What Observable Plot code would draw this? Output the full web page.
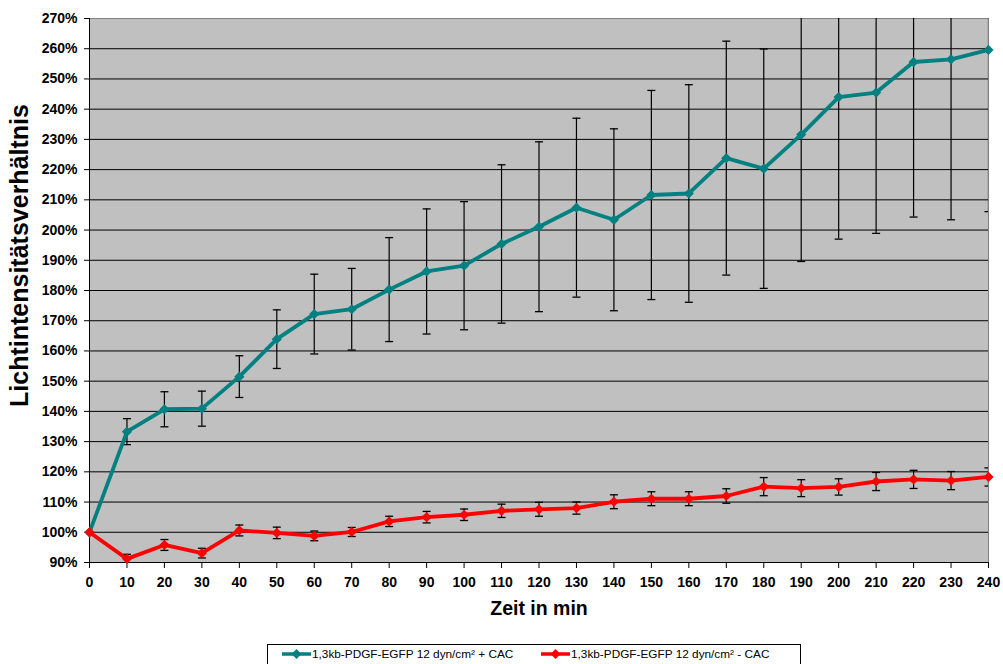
<!DOCTYPE html>
<html>
<head>
<meta charset="utf-8">
<script src="https://cdn.jsdelivr.net/npm/d3@7"></script>
<script src="https://cdn.jsdelivr.net/npm/@observablehq/plot@0.6"></script>
<style>
  html, body { margin: 0; padding: 0; background: #fff; }
  #wrap { position: relative; width: 1003px; height: 664px; overflow: hidden; }
  #legend { position: absolute; left: 267px; top: 644px; width: 534px; height: 24px;
            border: 1px solid #000; box-sizing: border-box; background: #fff;
            font-family: "Liberation Sans", Arial, sans-serif; font-size: 11.8px; color: #000; }
  .item { position: absolute; top: 2px; height: 14px; line-height: 14px; white-space: nowrap; display: flex; align-items: center; }
  .item svg { margin-right: 1px; }
</style>
</head>
<body>
<div id="wrap"><div id="chart"></div><div id="legend"></div></div>
<script>
const times = [0, 10, 20, 30, 40, 50, 60, 70, 80, 90, 100, 110, 120, 130, 140, 150, 160, 170, 180, 190, 200, 210, 220, 230, 240];
const plusMean = [100, 133.3, 140.7, 140.9, 151.5, 163.9, 172.2, 173.8, 180.3, 186.3, 188.2, 195.4, 201.1, 207.4, 203.4, 211.6, 212.1, 223.8, 220.3, 231.6, 244.0, 245.5, 255.6, 256.5, 259.6];
const plusSd = [0, 4.3, 5.8, 5.8, 6.9, 9.7, 13.2, 13.5, 17.2, 20.7, 21.2, 26.2, 28.1, 29.6, 30.1, 34.6, 36.0, 38.7, 39.6, 42.0, 47.0, 46.6, 51.3, 53.1, 53.5];
const minusMean = [100, 91.2, 95.8, 93.1, 100.6, 99.8, 98.8, 100.1, 103.6, 105.0, 105.8, 107.1, 107.6, 108.0, 110.1, 111.1, 111.1, 112.0, 115.1, 114.6, 115.0, 116.8, 117.5, 117.1, 118.3];
const minusSd = [0, 1.5, 1.8, 1.6, 1.8, 1.9, 1.6, 1.5, 1.7, 1.9, 1.9, 2.2, 2.3, 2.0, 2.3, 2.3, 2.3, 2.4, 3.0, 2.8, 2.7, 3.0, 3.0, 3.0, 3.0];
const seriesNames = ["1,3kb-PDGF-EGFP 12 dyn/cm² + CAC", "1,3kb-PDGF-EGFP 12 dyn/cm² - CAC"];
const seriesColors = ["#008080", "#ff0000"];
const yTicks = d3.range(90, 271, 10);
const xTicks = d3.range(0, 241, 10);
const xTitle = "Zeit in min";
const yTitle = "Lichtintensitätsverhältnis";

const plusRows = times.map((t, i) => ({t, v: plusMean[i], sd: plusSd[i]}));
const minusRows = times.map((t, i) => ({t, v: minusMean[i], sd: minusSd[i]}));
const errRows = [...plusRows, ...minusRows].filter(d => d.sd > 0);
const capRows = errRows.flatMap(d => [{t: d.t, y: d.v - d.sd}, {t: d.t, y: d.v + d.sd}]);

const capSymbol = {draw(ctx) { ctx.moveTo(-4, 0); ctx.lineTo(4, 0); }};

const chart = Plot.plot({
  width: 1003,
  height: 640,
  marginLeft: 89,
  marginRight: 15,
  marginTop: 18,
  marginBottom: 78,
  style: {fontFamily: "'Liberation Sans', Arial, sans-serif", fontSize: "14px", fontWeight: "bold", color: "#000", background: "#fff", overflow: "visible"},
  x: {domain: [0, 240]},
  y: {domain: [90, 270]},
  marks: [
    Plot.frame({fill: "#c0c0c0", stroke: null}),
    Plot.gridY(yTicks, {stroke: "#000", strokeOpacity: 1, strokeWidth: 1}),
    Plot.frame({stroke: "#808080", fill: null}),
    Plot.axisY(yTicks, {tickFormat: d => d + "%", tickSize: 5, tickPadding: 7, label: null, stroke: "#000", fill: "#000"}),
    Plot.axisX(xTicks, {tickFormat: d => String(d), tickSize: 6, tickPadding: 9, label: null, stroke: "#000", fill: "#000"}),
    Plot.ruleX([0], {stroke: "#000"}),
    Plot.ruleY([90], {stroke: "#000"}),
    Plot.ruleX(errRows, {x: "t", y1: d => d.v - d.sd, y2: d => d.v + d.sd, stroke: "#000", strokeWidth: 1.2, clip: true}),
    Plot.dot(capRows, {x: "t", y: "y", symbol: capSymbol, stroke: "#000", fill: "none", strokeWidth: 1.3, r: 4, clip: true}),
    Plot.line(plusRows, {x: "t", y: "v", stroke: seriesColors[0], strokeWidth: 3.8}),
    Plot.dot(plusRows, {x: "t", y: "v", symbol: "diamond2", r: 4.6, fill: seriesColors[0], stroke: null}),
    Plot.line(minusRows, {x: "t", y: "v", stroke: seriesColors[1], strokeWidth: 3.8}),
    Plot.dot(minusRows, {x: "t", y: "v", symbol: "diamond2", r: 4.6, fill: seriesColors[1], stroke: null}),
    Plot.text([xTitle], {frameAnchor: "bottom", dy: 52, fontSize: 19.5, fontWeight: "bold", fill: "#000"}),
    Plot.text([yTitle], {frameAnchor: "left", textAnchor: "middle", dx: -70, dy: -35, rotate: -90, fontSize: 25, fontWeight: "bold", fill: "#000"})
  ]
});
document.getElementById("chart").appendChild(chart);

const legend = document.getElementById("legend");
const itemLeft = [14, 273];
seriesNames.forEach((name, i) => {
  const item = document.createElement("div");
  item.className = "item";
  item.style.left = itemLeft[i] + "px";
  const c = seriesColors[i];
  item.innerHTML = `<svg width="29" height="12"><line x1="0" y1="6" x2="29" y2="6" stroke="${c}" stroke-width="3.5"/><polygon points="14.5,1 19.5,6 14.5,11 9.5,6" fill="${c}"/></svg><span>${name}</span>`;
  legend.appendChild(item);
});
</script>
</body>
</html>
